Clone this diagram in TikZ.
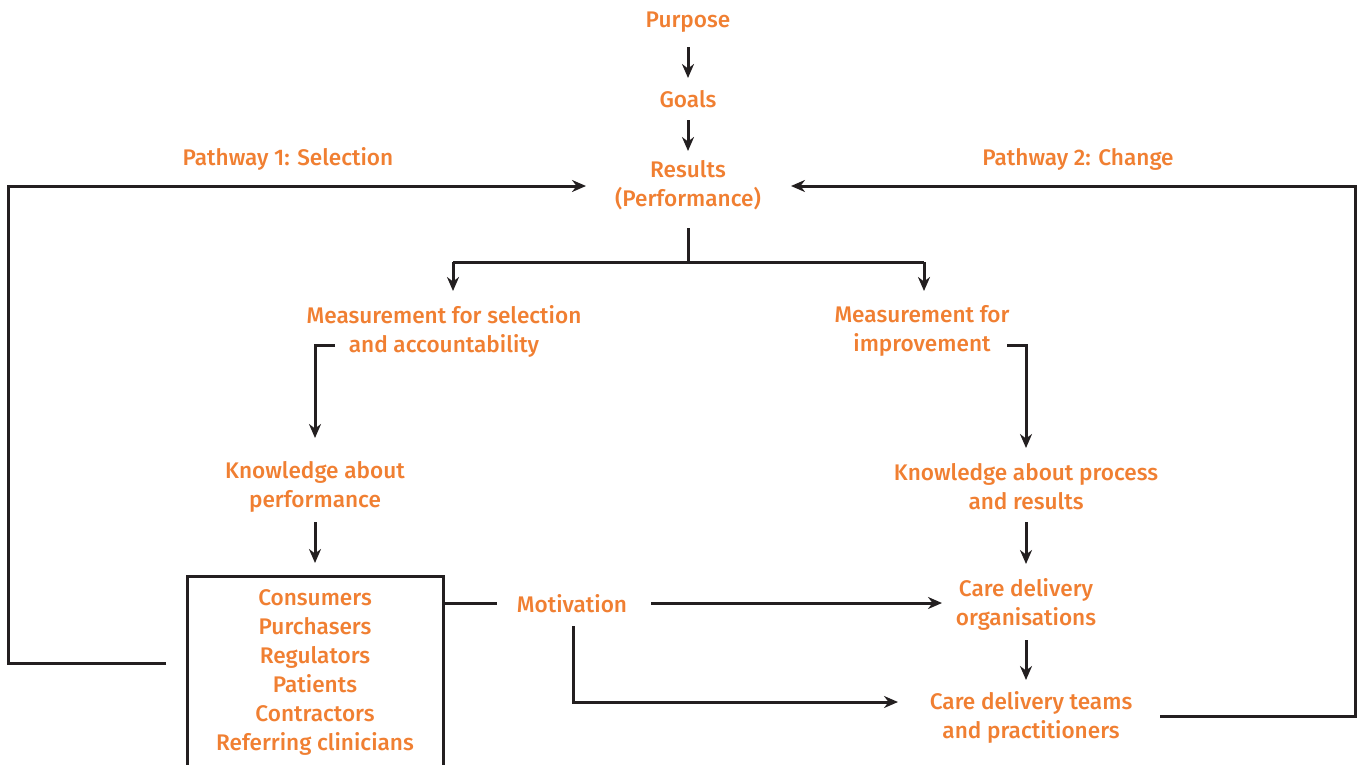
\documentclass[tikz,border=0pt]{standalone}
\usepackage{fontspec}
\setmainfont{Fira Sans Medium}
\usetikzlibrary{arrows.meta}
\definecolor{txtorange}{HTML}{F07F32}
\definecolor{linegray}{HTML}{231F20}
\begin{document}
\begin{tikzpicture}[x=1pt,y=-1pt,
  lbl/.style={text=txtorange,align=center,font=\fontsize{22.6}{29}\selectfont,inner sep=0pt},
  conn/.style={draw=linegray,line width=3pt},
  arr/.style={conn,-{Stealth[length=14pt,width=12pt]}}]
\useasboundingbox (0,0) rectangle (1359,764);
% nodes
\node[lbl] (purpose) at (688,22) {Purpose};
\node[lbl] (goals) at (688,99) {Goals};
\node[lbl] (results) at (688,185) {Results\\(Performance)};
\node[lbl] (p1) at (288,159) {Pathway 1: Selection};
\node[lbl] (p2) at (1078,159) {Pathway 2: Change};
\node[lbl] (msel) at (444,331) {Measurement for selection\\and accountability};
\node[lbl] (mimp) at (922,331) {Measurement for\\improvement};
\node[lbl] (kperf) at (315,487) {Knowledge about\\performance};
\node[lbl] (kproc) at (1026,487) {Knowledge about process\\and results};
\node[lbl] (stake) at (315,672) {Consumers\\Purchasers\\Regulators\\Patients\\Contractors\\Referring clinicians};
\node[lbl] (motiv) at (572,604) {Motivation};
\node[lbl] (cdo) at (1026,604) {Care delivery\\organisations};
\node[lbl] (cdt) at (1031,717) {Care delivery teams\\and practitioners};
% coordinates
\coordinate (r0) at (688,228);
\coordinate (rj) at (688,262);
\coordinate (rl) at (453,262);
\coordinate (rr) at (924,262);
\coordinate (ml) at (453,291);
\coordinate (mr) at (924,291);
\coordinate (sa) at (335,345);
\coordinate (sb) at (315,345);
\coordinate (sc) at (315,438);
\coordinate (ia) at (1007,345);
\coordinate (ib) at (1026,345);
\coordinate (ic) at (1026,448);
\coordinate (L0) at (166,663);
\coordinate (L1) at (8,663);
\coordinate (L2) at (8,186);
\coordinate (L3) at (586,186);
\coordinate (R0) at (1160,716);
\coordinate (R1) at (1355,716);
\coordinate (R2) at (1355,186);
\coordinate (R3) at (791,186);
% box
\draw[conn] (187,780) -- (187,576) -- (443,576) -- (443,780);
% connectors
\draw[arr] (purpose) ++(0,25) -- ++(0,31);
\draw[arr] (goals) ++(0,21) -- ++(0,31);
\draw[conn] (r0) -- (rj);
\draw[conn] (rl) -- (rr);
\draw[arr] (rl) -- (ml);
\draw[arr] (rr) -- (mr);
\draw[arr] (sa) -- (sb) -- (sc);
\draw[arr] (ia) -- (ib) -- (ic);
\draw[arr] (315,522) -- (315,563);
\draw[arr] (1026,522) -- (1026,564);
\draw[arr] (1026,640) -- (1026,680);
\draw[conn] (443,603) -- (497,603);
\draw[arr] (651,603) -- (942,603);
\draw[arr] (573,626) -- (573,702) -- (898,702);
\draw[arr] (L0) -- (L1) -- (L2) -- (L3);
\draw[arr] (R0) -- (R1) -- (R2) -- (R3);
\end{tikzpicture}
\end{document}
